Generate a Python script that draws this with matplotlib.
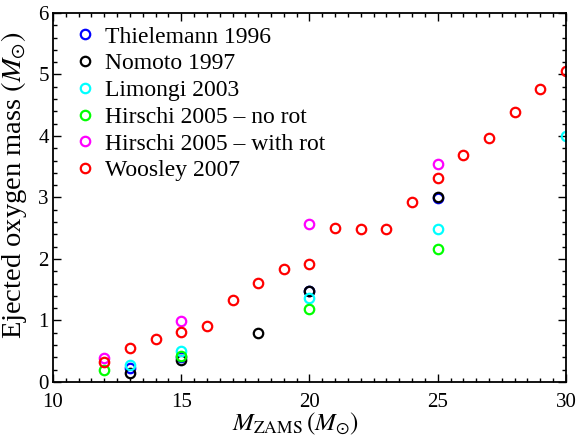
import matplotlib
matplotlib.use("Agg")
import matplotlib.pyplot as plt
from matplotlib.ticker import MultipleLocator

plt.rcParams['font.family'] = ['Liberation Serif', 'DejaVu Serif']
plt.rcParams['mathtext.fontset'] = 'stix'

# Ejected oxygen mass (M_sun) versus ZAMS mass for several yield sets
thielemann_m = [13, 15, 20, 25]
thielemann_o = [0.22, 0.40, 1.48, 2.99]

nomoto_m = [13, 15, 18, 20, 25]
nomoto_o = [0.14, 0.35, 0.79, 1.48, 3.00]

limongi_m = [13, 15, 20, 25, 30]
limongi_o = [0.27, 0.50, 1.37, 2.49, 4.00]

hirschi_norot_m = [12, 15, 20, 25]
hirschi_norot_o = [0.20, 0.42, 1.19, 2.16]

hirschi_rot_m = [12, 15, 20, 25]
hirschi_rot_o = [0.39, 0.99, 2.57, 3.55]

woosley_m = [12, 13, 14, 15, 16, 17, 18, 19, 20, 21, 22, 23, 24, 25, 26, 27, 28, 29, 30]
woosley_o = [0.33, 0.55, 0.70, 0.81, 0.91, 1.33, 1.61, 1.83, 1.92, 2.50, 2.48, 2.49,
             2.93, 3.31, 3.69, 3.96, 4.39, 4.76, 5.05]

series = [
    ("Thielemann 1996", thielemann_m, thielemann_o, (0, 0, 1)),
    ("Nomoto 1997", nomoto_m, nomoto_o, (0, 0, 0)),
    ("Limongi 2003", limongi_m, limongi_o, (0, 1, 1)),
    ("Hirschi 2005 \u2013 no rot", hirschi_norot_m, hirschi_norot_o, (0, 1, 0)),
    ("Hirschi 2005 \u2013 with rot", hirschi_rot_m, hirschi_rot_o, (1, 0, 1)),
    ("Woosley 2007", woosley_m, woosley_o, (1, 0, 0)),
]

fig = plt.figure(figsize=(5.79, 4.37), dpi=100)
ax = fig.add_axes([0.0915, 0.1259, 0.886, 0.8444])

for label, m, o, col in series:
    ax.plot(m, o, linestyle='none', marker='o', markersize=6.8,
            markerfacecolor='none', markeredgecolor=col, markeredgewidth=1.6,
            label=label)

ax.set_xlim(10, 30)
ax.set_ylim(0, 6)
ax.xaxis.set_major_locator(MultipleLocator(5))
ax.xaxis.set_minor_locator(MultipleLocator(0.5))
ax.yaxis.set_major_locator(MultipleLocator(1))
ax.yaxis.set_minor_locator(MultipleLocator(0.2))
ax.tick_params(which='both', direction='in', top=True, right=True, width=1.0)
ax.tick_params(which='major', length=6, labelsize=15)
ax.tick_params(which='minor', length=3)
ax.tick_params(axis='x', which='major', pad=8)
ax.tick_params(axis='y', which='major', pad=3)
for sp in ax.spines.values():
    sp.set_linewidth(1.3)

ax.set_xlabel(r"$M_{\rm ZAMS}\,(M_{\odot})$", fontsize=18)
ax.xaxis.set_label_coords(0.472, -0.078)
ax.set_ylabel(r"Ejected oxygen mass $(M_{\odot})$", fontsize=20.5)
ax.yaxis.set_label_coords(-0.046, 0.534)

ax.legend(loc='upper left', frameon=False, fontsize=17, handlelength=1.62,
          handletextpad=0.02, labelspacing=0.22, borderaxespad=0.3,
          borderpad=0.26)

fig.savefig("out.png", dpi=100)
